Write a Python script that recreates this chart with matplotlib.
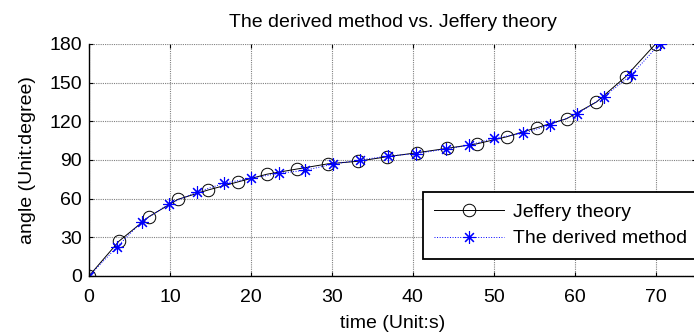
import matplotlib
matplotlib.use("Agg")
import matplotlib.pyplot as plt

plt.rcParams['font.family'] = ['Liberation Sans', 'DejaVu Sans']

# Jeffery theory (circles)
jeff_t = [0, 3.7, 7.4, 11.0, 14.7, 18.4, 22.0, 25.7, 29.5, 33.2,
          36.8, 40.5, 44.2, 47.9, 51.6, 55.3, 59.0, 62.7, 66.3, 70.0]
jeff_angle = [0, 27, 46, 59.5, 66.7, 73, 79, 83, 87, 89,
              92.5, 95.6, 99, 102.5, 108, 115, 122, 135, 154.6, 180]

# The derived method (asterisks)
der_t = [0, 3.5, 6.5, 9.9, 13.3, 16.7, 20.0, 23.5, 26.7, 30.2, 33.5,
         36.9, 40.4, 44.1, 47.0, 50.1, 53.6, 56.9, 60.3, 63.6, 67.0, 70.5]
der_angle = [0, 22.8, 42, 56, 65, 72, 75.8, 79.7, 82, 86.9, 90,
             93, 95, 98.5, 101.6, 107, 110.6, 117, 125.7, 139, 156, 180]

xticks = [0, 10, 20, 30, 40, 50, 60, 70]
yticks = [0, 30, 60, 90, 120, 150, 180]

FS = 14
W, H = 694, 336
fig = plt.figure(figsize=(W / 100, H / 100), dpi=100)
left, right, bottom, top = 89, 696, 276, 44
ax = fig.add_axes([left / W, 1 - bottom / H, (right - left) / W, (bottom - top) / H])

ax.plot(jeff_t, jeff_angle, color='black', lw=0.7, marker='o', ms=9,
        mfc='none', mec='black', mew=0.7, label='Jeffery theory')
ax.plot(der_t, der_angle, color='blue', lw=0.7, ls=':', marker=(8, 2, 0), ms=9,
        mec='blue', mew=0.8, label='The derived method')

ax.set_xlim(0, 75)
ax.set_ylim(0, 180)
ax.set_xticks(xticks)
ax.set_yticks(yticks)
ax.tick_params(direction='in', length=3, width=0.8, labelsize=FS,
               top=True, right=True, color='black')
ax.tick_params(axis='x', pad=9)
ax.tick_params(axis='y', pad=5)
ax.grid(True, color='#808080', ls=(0, (1, 1)), lw=0.8)
ax.spines['top'].set_visible(False)
ax.spines['right'].set_visible(False)
for s in ('left', 'bottom'):
    ax.spines[s].set_linewidth(1.0)
    ax.spines[s].set_color('black')

ax.set_title('The derived method vs. Jeffery theory', fontsize=FS, pad=12)
ax.set_xlabel('time (Unit:s)', fontsize=FS, labelpad=7)
ax.set_ylabel('angle (Unit:degree)', fontsize=FS, labelpad=10)

leg = ax.legend(loc='lower right', bbox_to_anchor=(1.005, (276 - 259) / (276 - 44)),
                fontsize=FS, frameon=True, fancybox=False, framealpha=1,
                edgecolor='black', borderpad=0.6, handlelength=3.6,
                handletextpad=0.45, labelspacing=0.45, borderaxespad=0)
leg.get_frame().set_linewidth(1.3)

fig.savefig('out.png', dpi=100)
